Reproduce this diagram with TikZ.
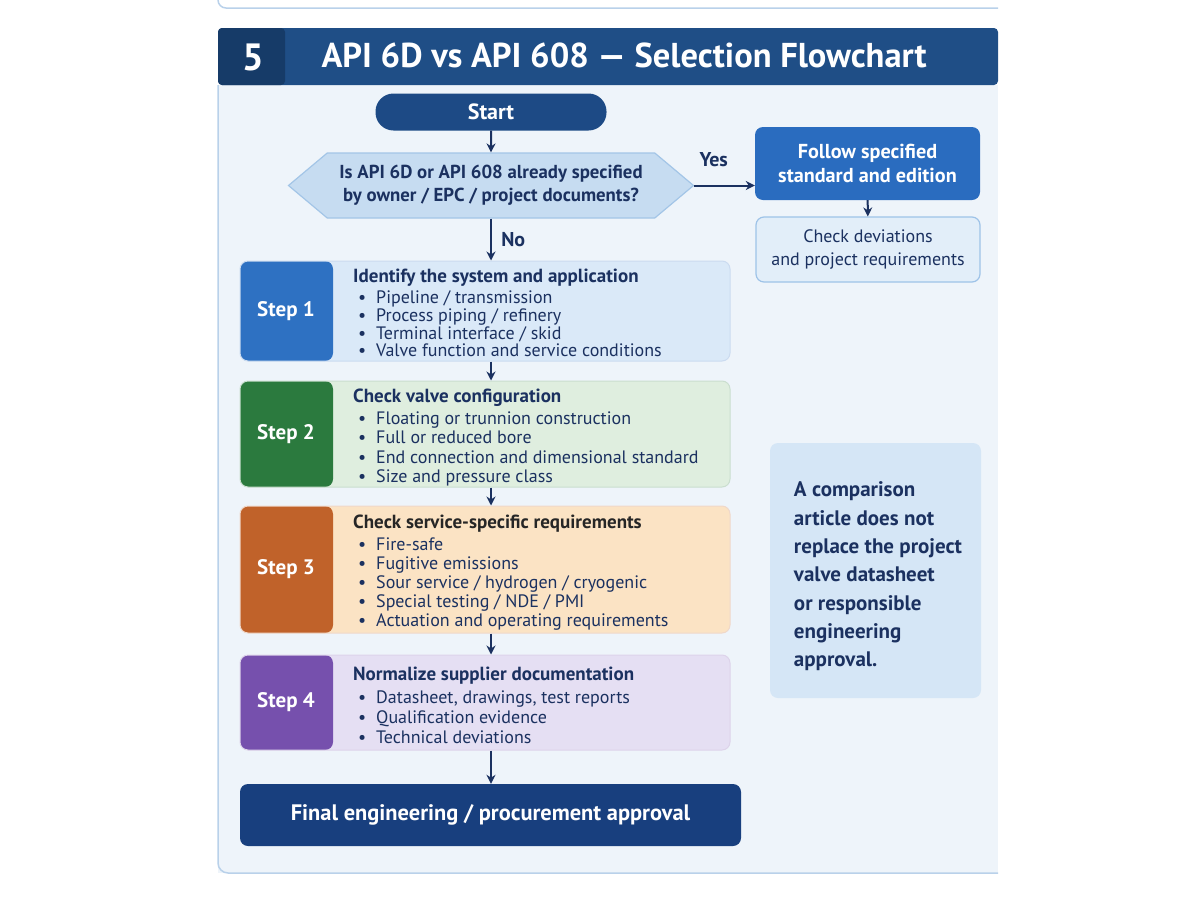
\documentclass[tikz,border=0pt]{standalone}
\usepackage{fontspec}
\setmainfont{PT Sans}
\usetikzlibrary{arrows.meta,shapes.symbols}

\definecolor{navy}{HTML}{1B3160}
\definecolor{hdr}{HTML}{1F4E86}
\definecolor{hdrdark}{HTML}{163B68}
\definecolor{panelbg}{HTML}{EEF4FA}
\definecolor{panelline}{HTML}{B9D1EA}
\definecolor{startc}{HTML}{1D4A85}
\definecolor{decfill}{HTML}{C6DCF1}
\definecolor{decline}{HTML}{A3C5E7}
\definecolor{followc}{HTML}{2A6CBF}
\definecolor{checkfill}{HTML}{E2EEF9}
\definecolor{checkline}{HTML}{9EC3E8}
\definecolor{sonedark}{HTML}{2E71C2}
\definecolor{sonelight}{HTML}{DAE9F8}
\definecolor{stwodark}{HTML}{2B7A3E}
\definecolor{stwolight}{HTML}{DFEEDF}
\definecolor{sthreedark}{HTML}{C0622A}
\definecolor{sthreelight}{HTML}{FBE3C4}
\definecolor{sfourdark}{HTML}{7650AD}
\definecolor{sfourlight}{HTML}{E5DFF3}
\definecolor{finalc}{HTML}{183F7E}
\definecolor{notefill}{HTML}{D5E6F6}

\newcommand{\itm}[1]{\hspace*{5pt}\makebox[18pt][l]{\textbullet}#1}

\begin{document}
\begin{tikzpicture}[x=1pt,y=-1pt,
  arr/.style={draw=navy,line width=2pt,-{Stealth[length=9pt,width=9pt]}},
  stepbox/.style 2 args={rounded corners=8pt,draw=#1!25,line width=1pt,fill=#2,
    minimum width=490pt,inner sep=0pt,
    path picture={\fill[#1] (path picture bounding box.south west) rectangle
      ([xshift=93pt]path picture bounding box.north west);}},
  steplbl/.style={text=white,font=\bfseries\fontsize{21}{24}\selectfont},
  steptxt/.style={anchor=north west,inner sep=0pt,align=left,text=navy,
    font=\fontsize{18}{#1}\selectfont},
  steptxt/.default=19,
  darkbox/.style={rounded corners=8pt,text=white,align=center,
    font=\bfseries\fontsize{20}{24}\selectfont},
  lbl/.style={text=navy,font=\bfseries\fontsize{20}{22}\selectfont}]
\useasboundingbox (0,0) rectangle (1200,900);

% frame of the page
\draw[panelline,line width=1.5pt,rounded corners=8pt] (218,-10) -- (218,8) -- (998,8);
\fill[panelbg] (218,85) rectangle (998,873);
\draw[panelline,line width=1.5pt,rounded corners=10pt] (998,873) -- (218,873) -- (218,85);
\fill[hdr,rounded corners=4pt] (218,85) -- (218,28) -- (998,28) -- (998,85) -- cycle;
\fill[hdrdark,rounded corners=4pt] (218,85) -- (218,28) -- (285,28) -- (285,85) -- cycle;
\node[text=white,font=\bfseries\fontsize{38}{40}\selectfont] (num) at (253,57) {5};
\node[anchor=west,text=white,font=\bfseries\fontsize{34.5}{38}\selectfont] (title) at (318,55)
  {API 6D vs API 608 — Selection Flowchart};

% decision part
\node[darkbox,fill=startc,rounded corners=18pt,minimum width=231pt,minimum height=37pt,
  font=\bfseries\fontsize{22}{24}\selectfont] (start) at (491,112) {Start};
\node[shape=signal,signal to=west and east,signal pointer angle=80,
  minimum width=405pt,minimum height=65pt,inner sep=0pt,fill=decfill,draw=decline,
  line width=1.2pt,align=center,text=navy,font=\bfseries\fontsize{18.8}{23}\selectfont]
  (dec) at (491,185.5) {Is API 6D or API 608 already specified\\by owner / EPC / project documents?};
\node[darkbox,fill=followc,minimum width=225pt,minimum height=73pt,
  font=\bfseries\fontsize{20.2}{24}\selectfont] (follow) at (867.5,163.5)
  {Follow specified\\standard and edition};
\node[rounded corners=8pt,fill=checkfill,draw=checkline,line width=1.2pt,
  minimum width=224pt,minimum height=65pt,align=center,text=navy,
  font=\fontsize{18}{23}\selectfont] (check) at (868,249.5)
  {Check deviations\\and project requirements};

% steps
\node[stepbox={sonedark}{sonelight},minimum height=100pt] (s1) at (485,311) {};
\node[steplbl] at ([xshift=46.5pt]s1.west) {Step 1};
\node[steptxt=17.8] (t1) at (353,268.5) {{\bfseries\fontsize{19}{19}\selectfont Identify the system and application}\\[3.5pt]
  \itm{Pipeline / transmission}\\ \itm{Process piping / refinery}\\
  \itm{Terminal interface / skid}\\ \itm{Valve function and service conditions}};

\node[stepbox={stwodark}{stwolight},minimum height=106pt] (s2) at (485,434) {};
\node[steplbl] at ([xshift=46.5pt]s2.west) {Step 2};
\node[steptxt=19.3] (t2) at (353,388.5) {{\bfseries\fontsize{19}{19}\selectfont Check valve configuration}\\[3pt]
  \itm{Floating or trunnion construction}\\ \itm{Full or reduced bore}\\
  \itm{End connection and dimensional standard}\\ \itm{Size and pressure class}};

\node[stepbox={sthreedark}{sthreelight},minimum height=127pt] (s3) at (485,569.5) {};
\node[steplbl] at ([xshift=46.5pt]s3.west) {Step 3};
\node[steptxt=19] (t3) at (353,515) {{\bfseries\fontsize{19}{19}\selectfont\color{black!85}Check service-specific requirements}\\[3pt]
  \itm{Fire-safe}\\ \itm{Fugitive emissions}\\ \itm{Sour service / hydrogen / cryogenic}\\
  \itm{Special testing / NDE / PMI}\\ \itm{Actuation and operating requirements}};

\node[stepbox={sfourdark}{sfourlight},minimum height=95pt] (s4) at (485,702.5) {};
\node[steplbl] at ([xshift=46.5pt]s4.west) {Step 4};
\node[steptxt=20] (t4) at (353,667) {{\bfseries\fontsize{19}{19}\selectfont Normalize supplier documentation}\\[3pt]
  \itm{Datasheet, drawings, test reports}\\ \itm{Qualification evidence}\\
  \itm{Technical deviations}};

\node[darkbox,fill=finalc,minimum width=501pt,minimum height=62pt,
  font=\bfseries\fontsize{22.4}{24}\selectfont] (final) at (490.5,815)
  {Final engineering / procurement approval};

% side note
\node[rounded corners=8pt,fill=notefill,minimum width=211pt,minimum height=255pt,
  align=left,text=navy,font=\bfseries\fontsize{21}{28.3}\selectfont] (note) at (875.5,570.5) {};
\node[align=left,text=navy,font=\bfseries\fontsize{21}{28.3}\selectfont] (notetxt) at (878,576.5)
  {A comparison\\article does not\\replace the project\\valve datasheet\\or responsible\\engineering\\approval.};

% arrows
\draw[arr] (start) -- (dec);
\draw[arr] (dec.east) -- node[lbl,pos=.32,above=14pt] {Yes} (dec.east -| follow.west);
\draw[arr] (follow) -- (check);
\draw[arr] (dec.south) -- node[lbl,right=6pt] {No} (dec.south |- s1.north);
\draw[arr] (s1.south -| start) -- (s2.north -| start);
\draw[arr] (s2.south -| start) -- (s3.north -| start);
\draw[arr] (s3.south -| start) -- (s4.north -| start);
\draw[arr] (s4.south -| start) -- (final.north -| start);
\end{tikzpicture}
\end{document}
